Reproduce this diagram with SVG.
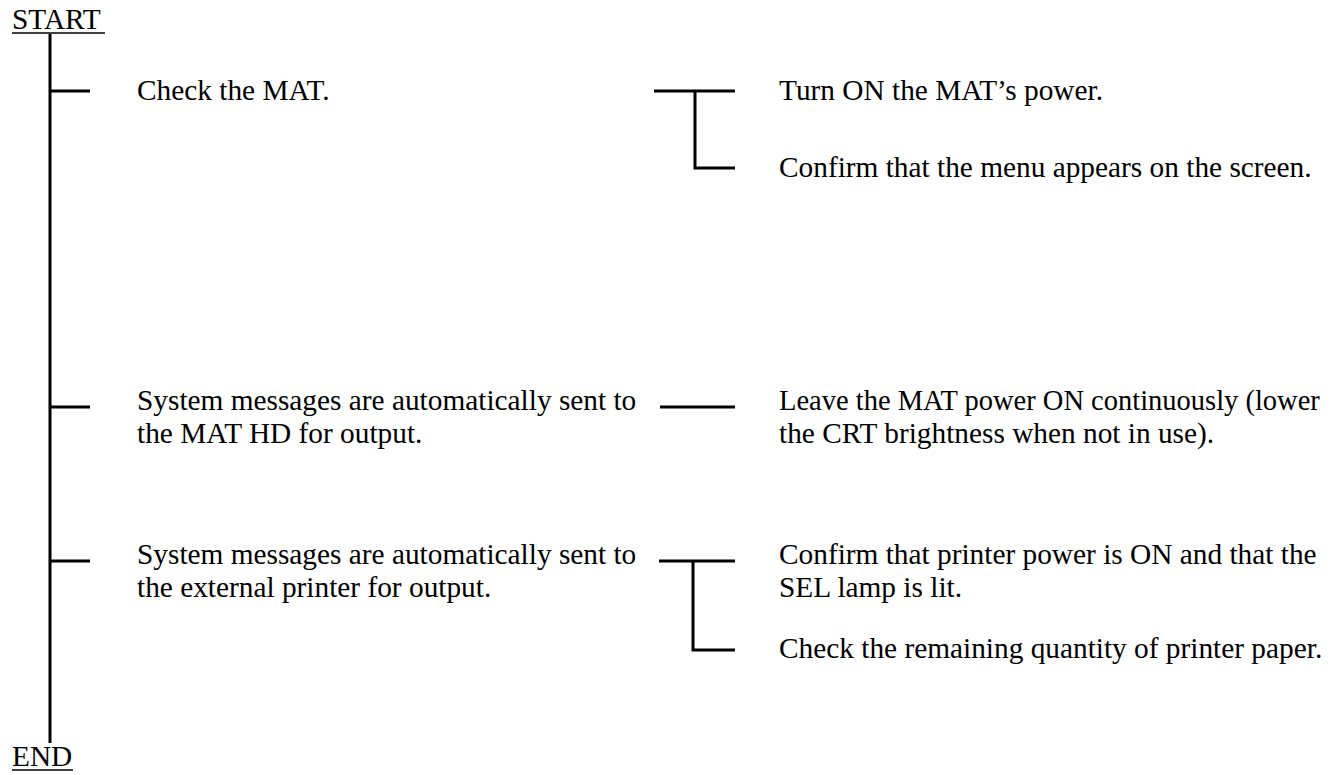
<svg xmlns="http://www.w3.org/2000/svg" width="1332" height="775" viewBox="0 0 1332 775">
<style>
text{font-family:"Liberation Serif","Times New Roman",serif;font-size:29.33px;fill:#000}
.ln{stroke:#000;stroke-width:3;fill:none}
.ul{stroke:#000;stroke-width:1.6}
</style>
<rect width="1332" height="775" fill="#fff"/>
<g id="connectors">
<line class="ln" x1="50" y1="34" x2="50" y2="743"/>
<line class="ln" x1="50" y1="91" x2="90" y2="91"/>
<line class="ln" x1="50" y1="407" x2="90" y2="407"/>
<line class="ln" x1="50" y1="561" x2="90" y2="561"/>
<polyline class="ln" points="654,91 735,91"/>
<polyline class="ln" points="695,91 695,168 735,168"/>
<line class="ln" x1="660" y1="407" x2="735" y2="407"/>
<polyline class="ln" points="659,561 735,561"/>
<polyline class="ln" points="693,561 693,650 735,650"/>
</g>
<g id="start"><text x="12" y="29">START</text><line class="ul" x1="12" y1="33" x2="105" y2="33"/></g>
<g id="end"><text x="12" y="766">END</text><line class="ul" x1="12" y1="770" x2="73" y2="770"/></g>
<g id="check-mat"><text x="137" y="100">Check the MAT.</text></g>
<g id="turn-on"><text x="779" y="100">Turn ON the MAT’s power.</text></g>
<g id="confirm-menu"><text x="779" y="177">Confirm that the menu appears on the screen.</text></g>
<g id="msg-hd"><text x="137" y="410">System messages are automatically sent to</text><text x="137" y="443">the MAT HD for output.</text></g>
<g id="leave-on"><text x="779" y="410" style="font-size:28.5px">Leave the MAT power ON continuously (lower</text><text x="779" y="443">the CRT brightness when not in use).</text></g>
<g id="msg-printer"><text x="137" y="564">System messages are automatically sent to</text><text x="137" y="597">the external printer for output.</text></g>
<g id="confirm-printer"><text x="779" y="564">Confirm that printer power is ON and that the</text><text x="779" y="597">SEL lamp is lit.</text></g>
<g id="check-paper"><text x="779" y="658">Check the remaining quantity of printer paper.</text></g>
</svg>
